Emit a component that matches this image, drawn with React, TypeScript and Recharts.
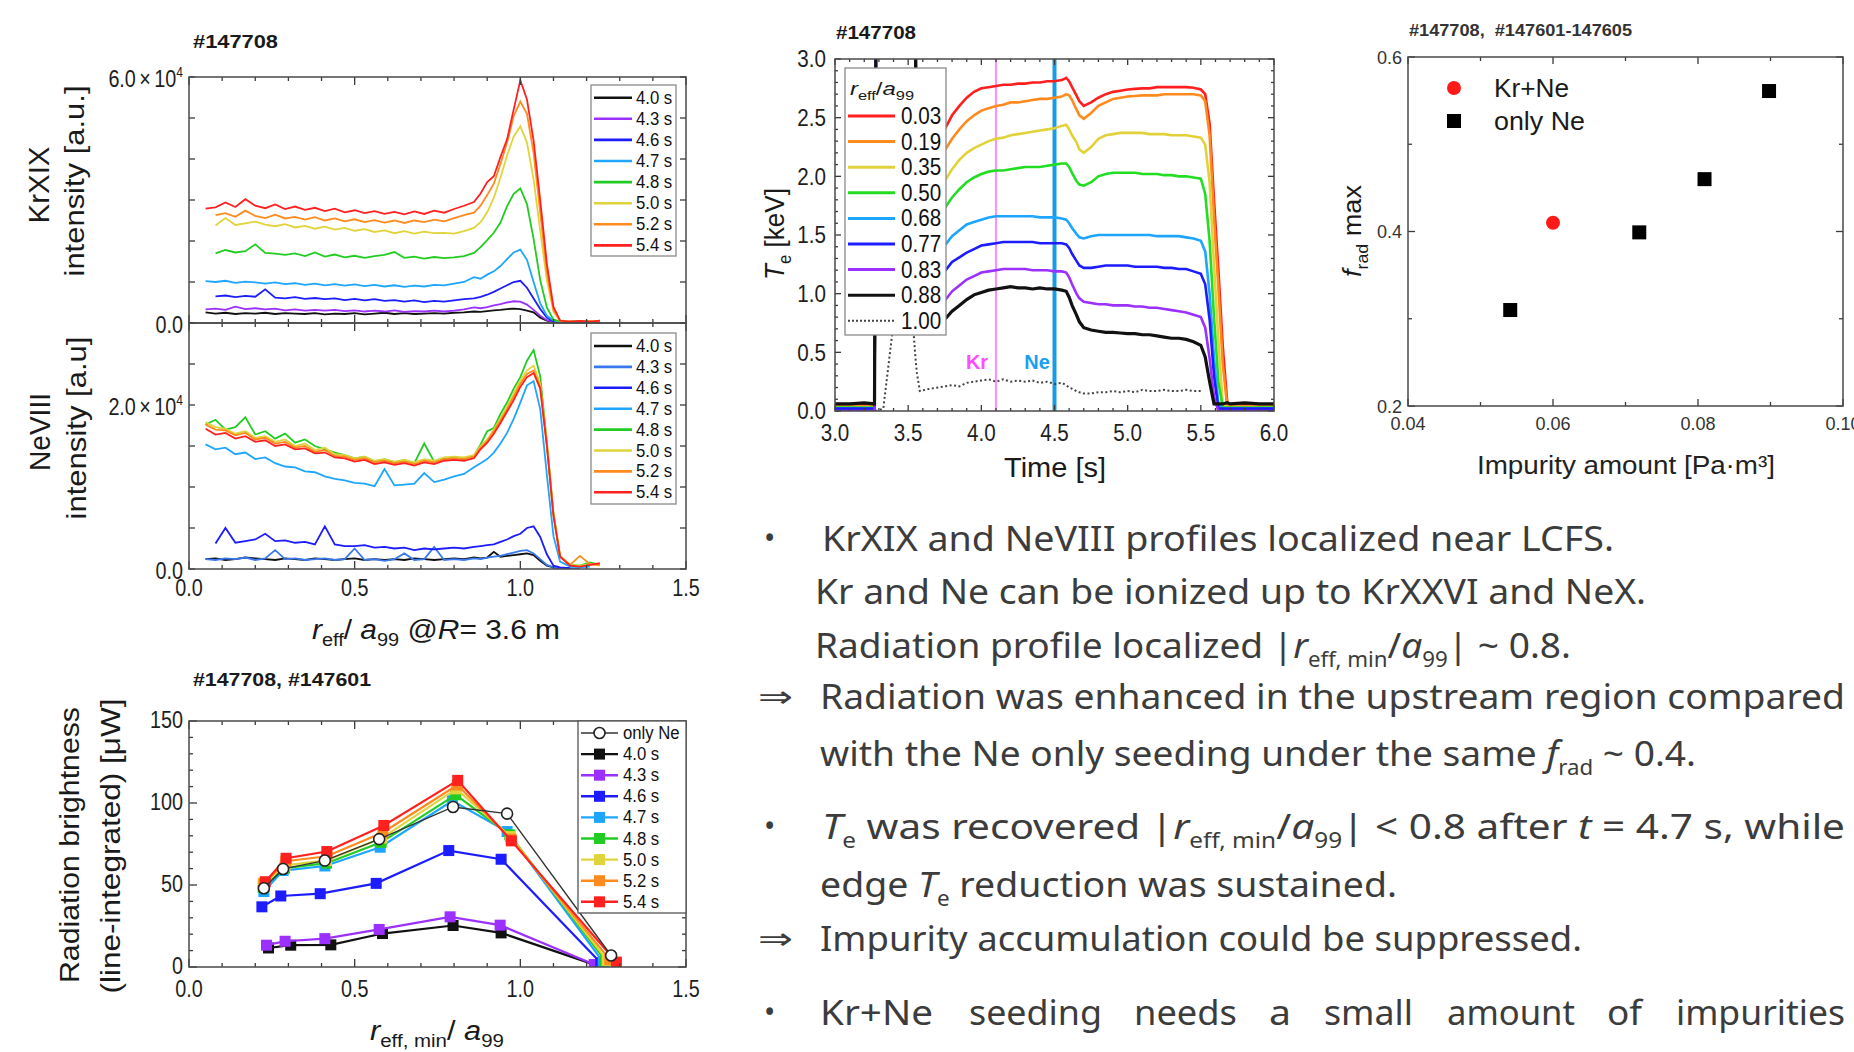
import React from 'react';
import { LineChart, Line, XAxis, YAxis, ReferenceLine, ScatterChart, Scatter } from 'recharts';

const SANS = '"Liberation Sans", Arial, Helvetica, sans-serif';
const BODY = '"Noto Sans", "DejaVu Sans", sans-serif';
const AX = '#3a3a3a';

// ---------------- data: KrXIX / NeVIII profiles (units of 1e3) ----------------
const KR_X = [0.05,0.08,0.11,0.14,0.17,0.20,0.23,0.26,0.29,0.32,0.35,0.38,0.41,0.44,0.47,0.50,0.53,0.56,0.59,0.62,0.65,0.68,0.71,0.74,0.77,0.80,0.83,0.86,0.88,0.90,0.92,0.94,0.96,0.98,1.00,1.02,1.04,1.06,1.08,1.10,1.12,1.15,1.18,1.21,1.24];
const PROFILE_LABELS = ['4.0 s','4.3 s','4.6 s','4.7 s','4.8 s','5.0 s','5.2 s','5.4 s'];
const KR_COLORS = ['#111111','#9b30ff','#1c1cff','#1ea6ff','#22cc22','#e0d43c','#ff8a1e','#ff2020'];
const NE_COLORS = ['#111111','#3a78f0','#1c1cff','#1ea6ff','#22cc22','#e0d43c','#ff8a1e','#ff2020'];

const KR_40 = [2.6,2.3,2.5,2.2,2.4,2.3,2.5,2.2,2.4,2.3,2.2,2.4,2.1,2.3,2.2,2.4,2.1,2.3,2.5,2.2,2.4,2.2,2.3,2.4,2.3,2.5,2.6,2.8,2.7,2.9,3.1,3.2,3.4,3.5,3.4,3.0,2.6,1.3,0.6,0.3,0.2,0.2,0.1,0.2,0.1];
const KR_43 = [3.3,3.5,3.2,4.0,3.4,3.6,3.3,3.5,3.1,3.3,3.0,3.2,3.0,3.2,2.9,3.1,2.8,3.0,2.8,3.1,2.7,2.9,2.8,3.0,2.8,3.0,3.3,3.8,3.6,3.9,4.3,4.6,5.0,5.3,5.2,4.5,3.2,1.8,0.7,0.3,0.2,0.2,0.3,0.2,0.3];
const KR_46 = [null,6.5,6.7,6.3,6.6,6.4,8.2,6.2,6.0,6.3,5.9,6.1,5.8,6.0,5.6,5.9,5.5,5.8,5.4,5.6,5.2,5.5,5.1,5.4,5.2,5.5,5.8,6.0,6.4,6.9,7.6,8.4,9.2,10.0,10.3,8.6,6.0,3.4,1.3,0.4,0.2,0.3,0.2,0.3,0.2];
const KR_47 = [10.2,10.0,10.3,9.8,10.1,9.9,9.6,9.9,9.5,9.7,9.3,9.6,9.2,9.5,9.1,9.4,9.0,9.3,8.9,9.2,8.8,9.1,8.9,9.3,9.2,9.6,10.0,11.2,10.8,11.8,12.6,13.9,15.6,17.2,17.9,15.4,10.0,4.8,1.8,0.6,0.3,0.2,0.4,0.2,0.3];
const KR_48 = [null,17.0,17.8,17.2,17.5,19.2,17.1,16.9,16.6,17.0,16.3,17.2,16.2,16.7,16.0,16.4,15.9,16.3,16.6,17.3,15.9,16.2,15.7,16.1,15.8,16.0,16.3,17.1,18.5,20.2,22.0,24.5,28.5,31.5,32.8,29.0,20.5,10.5,3.8,0.8,0.4,0.3,0.5,0.3,0.6];
const KR_50 = [null,23.8,25.6,23.9,24.3,24.7,24.0,23.6,24.1,23.3,23.7,23.0,23.5,22.8,23.2,22.5,22.9,22.2,22.6,21.9,22.4,21.8,22.3,21.9,22.0,21.8,22.4,23.2,24.6,27.0,30.5,35.5,40.8,45.5,48.0,44.0,35.0,22.5,10.5,2.8,0.5,0.3,0.4,0.2,0.4];
const KR_52 = [null,26.3,26.8,25.9,27.4,26.1,25.6,26.4,25.5,25.9,25.2,25.8,25.0,25.5,24.8,25.3,24.6,25.1,24.5,25.0,24.4,25.0,24.6,25.2,24.8,25.6,26.3,26.9,28.6,31.2,34.0,38.8,44.0,50.5,54.0,51.0,41.5,27.0,12.5,3.2,0.6,0.4,0.2,0.5,0.3];
const KR_54 = [27.9,28.2,29.4,28.3,30.2,28.6,28.0,28.9,27.8,28.4,27.6,28.1,27.3,27.9,27.0,27.5,26.8,27.3,26.6,27.1,26.5,27.2,26.6,27.4,26.9,27.8,28.6,29.5,31.6,34.4,35.8,40.5,44.8,52.1,59.2,54.5,44.5,30.0,14.5,3.9,0.6,0.3,0.5,0.3,0.6];

const NE_40 = [1.2,1.3,1.1,1.2,1.4,1.3,1.2,1.1,1.3,1.2,1.1,1.3,1.2,1.1,1.2,1.3,1.1,1.2,1.1,1.2,1.1,1.3,1.2,1.1,1.2,1.3,1.2,1.4,1.3,1.4,2.1,1.5,1.6,1.7,1.8,1.9,1.7,1.0,0.4,0.2,0.1,0.1,null,null,null];
const NE_43 = [1.2,1.1,1.3,1.2,1.4,1.1,1.3,2.3,1.2,1.3,1.1,1.2,1.3,1.1,1.2,2.5,1.1,1.2,1.0,1.2,1.9,1.1,1.2,2.7,1.1,1.2,1.1,1.3,1.2,1.4,1.5,1.6,1.8,2.0,2.2,2.3,1.9,1.2,0.5,0.2,0.1,0.1,0.0,null,null];
const NE_46 = [null,3.1,5.0,3.2,3.4,3.6,4.3,3.4,3.5,3.2,3.3,3.0,5.2,3.0,2.8,2.8,2.9,2.6,2.7,2.5,2.6,2.3,2.5,2.4,2.5,2.6,2.5,2.7,2.8,2.9,3.0,3.3,3.6,4.0,4.3,5.0,5.2,3.9,1.8,0.4,0.2,0.1,null,null,null];
const NE_47 = [15.2,14.6,14.8,14.0,14.2,13.4,13.6,12.9,12.5,12.4,11.9,11.8,11.3,11.0,10.8,10.5,10.4,10.1,12.2,10.2,10.3,10.4,11.7,10.6,10.9,11.3,11.6,12.4,12.9,13.4,14.2,15.3,16.6,18.3,20.3,22.4,22.9,19.5,11.5,4.0,0.9,0.3,0.2,0.3,null];
const NE_48 = [17.6,18.2,17.0,17.3,18.5,16.4,16.8,15.9,16.5,15.4,15.8,15.0,14.6,14.2,13.9,13.5,13.7,13.1,13.4,13.0,13.3,12.9,15.3,13.1,13.5,13.6,13.4,13.8,15.2,16.8,17.2,18.9,20.3,22.0,23.4,25.4,26.7,23.5,15.5,6.8,1.6,0.5,0.4,0.8,0.5];
const NE_50 = [17.9,17.3,17.1,16.5,16.8,16.0,16.2,15.5,15.8,15.0,15.3,14.5,14.8,14.0,13.9,13.5,13.7,13.2,13.4,13.1,13.3,13.0,13.4,13.2,13.6,13.7,13.6,13.9,15.0,15.8,17.0,18.4,19.8,21.4,23.0,24.2,24.8,22.6,15.4,6.7,1.6,0.5,0.4,0.6,0.4];
const NE_52 = [17.6,17.0,16.9,16.3,16.6,15.8,16.0,15.3,15.5,14.8,15.0,14.3,14.5,13.8,13.7,13.3,13.5,13.0,13.2,12.9,13.1,12.8,13.2,13.0,13.4,13.5,13.4,13.7,14.8,15.6,16.8,18.1,19.5,21.0,22.6,23.8,24.2,22.2,15.2,6.6,1.5,0.5,1.6,0.6,0.5];
const NE_54 = [17.1,16.4,16.6,15.9,16.2,15.5,15.7,15.0,15.2,14.6,14.7,14.1,14.2,13.6,13.5,13.1,13.3,12.8,13.0,12.7,12.9,12.6,13.0,12.8,13.2,13.3,13.2,13.5,14.6,15.4,16.5,17.8,19.2,20.6,22.2,23.4,23.9,22.0,15.0,6.5,1.5,0.4,0.3,0.5,0.7];

const KR_SERIES = [KR_40, KR_43, KR_46, KR_47, KR_48, KR_50, KR_52, KR_54];
const NE_SERIES = [NE_40, NE_43, NE_46, NE_47, NE_48, NE_50, NE_52, NE_54];

// ---------------- data: radiation brightness ----------------
const RAD_LABELS = ['4.0 s','4.3 s','4.6 s','4.7 s','4.8 s','5.0 s','5.2 s','5.4 s'];
const RAD_COLORS = ['#111111','#9b30ff','#1c1cff','#1ea6ff','#22cc22','#e0d43c','#ff8a1e','#ff2020'];
const RAD_X_40 = [0.24,0.307,0.428,0.584,0.797,0.942,1.23];
const RAD_Y_40 = [11.6,13.3,13.5,20.4,25.3,20.8,1.0];
const RAD_X_43 = [0.234,0.29,0.41,0.574,0.788,0.939,1.223];
const RAD_Y_43 = [13.3,15.7,17.3,22.9,30.6,25.5,1.5];
const RAD_X_46 = [0.22,0.277,0.396,0.565,0.784,0.942,1.243];
const RAD_Y_46 = [36.7,43.3,44.7,51.0,71.0,65.7,2.5];
const RAD_X_47 = [0.226,0.284,0.41,0.577,0.795,0.96,1.25];
const RAD_Y_47 = [46.0,58.8,61.6,73.0,101.4,82.6,3.0];
const RAD_X_48 = [0.224,0.288,0.415,0.58,0.805,0.968,1.257];
const RAD_Y_48 = [48.6,60.2,63.3,76.0,105.0,80.6,3.7];
const RAD_X_50 = [0.224,0.29,0.415,0.582,0.807,0.97,1.262];
const RAD_Y_50 = [51.0,62.0,65.0,78.6,108.6,79.5,4.0];
const RAD_X_52 = [0.226,0.292,0.416,0.585,0.81,0.972,1.27];
const RAD_Y_52 = [50.5,64.5,67.5,82.0,111.0,78.0,4.5];
const RAD_X_54 = [0.23,0.293,0.416,0.588,0.811,0.973,1.29];
const RAD_Y_54 = [52.0,66.3,70.4,86.3,113.8,76.9,3.0];
const RAD_X_NE = [0.226,0.284,0.41,0.574,0.797,0.96,1.274];
const RAD_Y_NE = [48.0,59.8,64.9,78.0,97.6,93.5,7.0];
const RAD_XS = [RAD_X_40, RAD_X_43, RAD_X_46, RAD_X_47, RAD_X_48, RAD_X_50, RAD_X_52, RAD_X_54];
const RAD_YS = [RAD_Y_40, RAD_Y_43, RAD_Y_46, RAD_Y_47, RAD_Y_48, RAD_Y_50, RAD_Y_52, RAD_Y_54];

// ---------------- data: Te time traces ----------------
const TE_T = [3.0,3.1,3.2,3.27,3.28,3.33,3.4,3.5,3.55,3.56,3.58,3.65,3.75,3.8,3.85,3.9,3.95,4.0,4.05,4.1,4.15,4.2,4.25,4.3,4.35,4.4,4.45,4.5,4.55,4.58,4.6,4.62,4.65,4.67,4.7,4.75,4.8,4.85,4.9,4.95,5.0,5.05,5.1,5.15,5.2,5.25,5.3,5.35,5.4,5.45,5.5,5.53,5.56,5.59,5.62,5.65,5.68,5.7,5.8,5.9,6.0];
const TE_LABELS = ['0.03','0.19','0.35','0.50','0.68','0.77','0.83','0.88','1.00'];
const TE_COLORS = ['#ff1f1f','#ff8a1e','#e2d23a','#22dd22','#1ea6ff','#1c1cff','#9b30ff','#111111','#444444'];
const TE_003 = [0.05,0.05,0.05,0.05,3.3,3.3,3.3,3.3,3.3,2.0,2.1,2.25,2.40,2.52,2.60,2.67,2.72,2.75,2.76,2.77,2.78,2.78,2.79,2.79,2.80,2.80,2.81,2.81,2.82,2.84,2.81,2.76,2.69,2.64,2.60,2.63,2.67,2.70,2.72,2.73,2.74,2.745,2.75,2.75,2.76,2.76,2.76,2.76,2.76,2.755,2.74,2.70,2.45,1.80,1.20,0.55,0.08,0.04,0.05,0.05,0.05];
const TE_019 = [0.04,0.04,0.04,0.04,3.3,3.3,3.3,3.3,3.3,1.9,1.95,2.08,2.22,2.32,2.40,2.47,2.52,2.56,2.58,2.60,2.61,2.63,2.63,2.64,2.65,2.66,2.66,2.67,2.68,2.70,2.69,2.65,2.57,2.52,2.49,2.54,2.60,2.63,2.66,2.67,2.68,2.685,2.69,2.69,2.69,2.70,2.70,2.70,2.70,2.70,2.69,2.64,2.35,1.65,1.05,0.40,0.04,0.04,0.04,0.04,0.04];
const TE_035 = [0.03,0.03,0.03,0.03,3.3,3.3,3.3,3.3,3.3,1.7,1.72,1.83,1.96,2.06,2.14,2.20,2.24,2.27,2.30,2.32,2.33,2.35,2.36,2.37,2.38,2.39,2.40,2.41,2.43,2.44,2.40,2.35,2.29,2.23,2.20,2.25,2.32,2.35,2.36,2.37,2.37,2.37,2.37,2.36,2.36,2.36,2.35,2.35,2.35,2.34,2.33,2.27,1.95,1.25,0.60,0.06,0.03,0.03,0.03,0.03,0.03];
const TE_050 = [0.03,0.03,0.03,0.03,3.3,3.3,3.3,3.3,3.3,1.5,1.52,1.62,1.73,1.82,1.89,1.95,1.99,2.02,2.04,2.05,2.05,2.06,2.07,2.08,2.08,2.08,2.09,2.10,2.11,2.11,2.08,2.03,1.96,1.93,1.92,1.95,2.00,2.02,2.03,2.03,2.03,2.03,2.02,2.02,2.02,2.01,2.01,2.00,2.00,1.99,1.98,1.85,1.45,0.80,0.25,0.03,0.03,0.03,0.03,0.03,0.03];
const TE_068 = [0.02,0.02,0.02,0.02,3.3,3.3,3.3,3.3,3.3,1.2,1.22,1.32,1.41,1.49,1.54,1.59,1.61,1.63,1.65,1.66,1.66,1.66,1.66,1.66,1.66,1.65,1.65,1.65,1.64,1.63,1.60,1.56,1.51,1.48,1.47,1.49,1.50,1.50,1.50,1.50,1.50,1.50,1.50,1.50,1.49,1.49,1.49,1.49,1.48,1.47,1.45,1.36,1.00,0.45,0.06,0.02,0.02,0.02,0.02,0.02,0.02];
const TE_077 = [0.02,0.02,0.02,0.02,3.3,3.3,3.3,3.3,3.3,1.0,1.02,1.10,1.19,1.27,1.31,1.35,1.38,1.41,1.42,1.43,1.44,1.44,1.44,1.44,1.44,1.43,1.43,1.43,1.43,1.42,1.39,1.34,1.28,1.24,1.22,1.22,1.23,1.24,1.24,1.24,1.24,1.23,1.23,1.23,1.23,1.22,1.22,1.21,1.21,1.19,1.17,1.08,0.78,0.30,0.02,0.02,0.02,0.02,0.02,0.02,0.02];
const TE_083 = [0.0,0.0,0.0,0.0,3.3,3.3,3.3,3.3,3.3,0.9,0.88,0.90,0.94,1.02,1.07,1.12,1.15,1.18,1.19,1.20,1.21,1.21,1.21,1.21,1.20,1.20,1.20,1.19,1.19,1.18,1.14,1.08,1.00,0.96,0.93,0.92,0.91,0.91,0.90,0.90,0.90,0.89,0.89,0.88,0.88,0.87,0.86,0.85,0.84,0.82,0.80,0.71,0.45,0.12,0.0,0.0,0.0,0.0,0.0,0.0,0.0];
const TE_088 = [0.06,0.06,0.07,0.06,3.3,3.3,3.3,3.3,3.3,0.75,0.72,0.74,0.78,0.85,0.90,0.95,0.99,1.01,1.03,1.04,1.05,1.06,1.05,1.05,1.04,1.05,1.04,1.04,1.03,1.02,0.97,0.90,0.82,0.76,0.71,0.69,0.68,0.67,0.67,0.665,0.66,0.66,0.65,0.65,0.64,0.63,0.62,0.62,0.61,0.59,0.56,0.46,0.25,0.06,0.06,0.06,0.07,0.06,0.07,0.06,0.06];
const TE_100 = [0,0,0,0,0,0.02,0.75,1.3,0.45,0.32,0.17,0.19,0.21,0.22,0.21,0.24,0.25,0.26,0.27,0.25,0.27,0.25,0.26,0.25,0.26,0.24,0.25,0.23,0.24,0.22,0.20,0.19,0.17,0.16,0.15,0.15,0.16,0.16,0.17,0.16,0.17,0.16,0.18,0.17,0.17,0.18,0.17,0.17,0.18,0.17,0.17,null,null,null,null,null,null,null,null,null,null];
const TE_SERIES = [TE_003, TE_019, TE_035, TE_050, TE_068, TE_077, TE_083, TE_088, TE_100];
const KR_PUFF_T = 4.1;
const NE_PUFF_T = 4.5;

// ---------------- data: f_rad max vs impurity amount ----------------
const KRNE_AMOUNT = [0.060];
const KRNE_FRAD = [0.41];
const NEONLY_AMOUNT = [0.0541, 0.0719, 0.0809, 0.0898];
const NEONLY_FRAD = [0.31, 0.399, 0.46, 0.561];

// ---------------- ticks ----------------
const PROFILE_X_TICKS = [0,0.1,0.2,0.3,0.4,0.5,0.6,0.7,0.8,0.9,1.0,1.1,1.2,1.3,1.4,1.5];
const PROFILE_X_MAJOR = [0,0.5,1.0,1.5];
const KR_Y_TICKS = [0,10,20,30,40,50,60];
const KR_Y_LABELED = [0,60];
const NE_Y_TICKS = [0,5,10,15,20,25,30];
const NE_Y_LABELED = [0,20];
const RAD_Y_TICKS = [0,10,20,30,40,50,60,70,80,90,100,110,120,130,140,150];
const RAD_Y_MAJOR = [0,50,100,150];
const TE_X_TICKS = [3.0,3.1,3.2,3.3,3.4,3.5,3.6,3.7,3.8,3.9,4.0,4.1,4.2,4.3,4.4,4.5,4.6,4.7,4.8,4.9,5.0,5.1,5.2,5.3,5.4,5.5,5.6,5.7,5.8,5.9,6.0];
const TE_X_MAJOR = [3.0,3.5,4.0,4.5,5.0,5.5,6.0];
const TE_Y_TICKS = [0,0.1,0.2,0.3,0.4,0.5,0.6,0.7,0.8,0.9,1.0,1.1,1.2,1.3,1.4,1.5,1.6,1.7,1.8,1.9,2.0,2.1,2.2,2.3,2.4,2.5,2.6,2.7,2.8,2.9,3.0];
const TE_Y_MAJOR = [0,0.5,1.0,1.5,2.0,2.5,3.0];
const FR_X_TICKS = [0.04,0.05,0.06,0.07,0.08,0.09,0.10];
const FR_X_MAJOR = [0.04,0.06,0.08,0.10];
const FR_Y_TICKS = [0.2,0.3,0.4,0.5,0.6];
const FR_Y_MAJOR = [0.2,0.4,0.6];

// ---------------- layout ----------------
type Rect = { x: number; y: number; w: number; h: number };
const YW = 100, MT = 20, MR = 24, XH = 50;
const R_KR: Rect = { x: 189, y: 77, w: 497, h: 246 };
const R_NE: Rect = { x: 189, y: 323, w: 497, h: 246 };
const R_RAD: Rect = { x: 189, y: 721, w: 497, h: 246 };
const R_TE: Rect = { x: 835, y: 59, w: 439, h: 352 };
const R_FR: Rect = { x: 1408, y: 57, w: 435, h: 349 };

const boxStyle = (r: Rect): React.CSSProperties => ({ position: 'absolute', left: r.x - YW, top: r.y - MT });
const cw = (r: Rect) => YW + r.w + MR;
const ch = (r: Rect) => MT + r.h + XH;
const MARGIN = { top: MT, right: MR, left: 0, bottom: 0 };

type TickCfg = {
  rect: Rect; major: number[]; labeled: number[];
  fmt: (v: number) => React.ReactNode;
  size: number; sx: number; majLen: number; minLen: number; off: number;
  color?: string; weight?: number; ldy?: number;
};
const has = (arr: number[], v: number) => arr.some((m) => Math.abs(m - v) < 1e-9);

function xTick(c: TickCfg) {
  const b = MT + c.rect.h;
  const t = MT;
  return (p: any) => {
    const v = Number(p.payload.value);
    const x = Number(p.x);
    const L = has(c.major, v) ? c.majLen : c.minLen;
    return (
      <g>
        <line x1={x} x2={x} y1={b} y2={b - L} stroke={AX} strokeWidth={1.3} />
        <line x1={x} x2={x} y1={t} y2={t + L} stroke={AX} strokeWidth={1.3} />
        {has(c.labeled, v) ? (
          <text transform={`translate(${x} ${b + c.off}) scale(${c.sx} 1)`} textAnchor="middle" fontFamily={SANS}
            fontSize={c.size} fill={c.color ?? '#1e1e1e'} fontWeight={c.weight ?? 400}>{c.fmt(v)}</text>
        ) : null}
      </g>
    );
  };
}
function yTick(c: TickCfg) {
  const l = YW;
  const r = YW + c.rect.w;
  return (p: any) => {
    const v = Number(p.payload.value);
    const y = Number(p.y);
    const L = has(c.major, v) ? c.majLen : c.minLen;
    return (
      <g>
        <line x1={l} x2={l + L} y1={y} y2={y} stroke={AX} strokeWidth={1.3} />
        <line x1={r} x2={r - L} y1={y} y2={y} stroke={AX} strokeWidth={1.3} />
        {has(c.labeled, v) ? (
          <text transform={`translate(${l - c.off} ${y + c.size * 0.35 + (c.ldy ?? 0)}) scale(${c.sx} 1)`} textAnchor="end"
            fontFamily={SANS} fontSize={c.size} fill={c.color ?? '#1e1e1e'} fontWeight={c.weight ?? 400}>{c.fmt(v)}</text>
        ) : null}
      </g>
    );
  };
}

const f0 = (v: number) => String(Math.round(v));
const f1 = (v: number) => v.toFixed(1);
const f2 = (v: number) => v.toFixed(2);
const sci4 = (v: number) => (v === 0 ? '0.0' : (
  <>
    {(v / 10).toFixed(1)}
    <tspan dx={4}>×</tspan>
    <tspan dx={4}>10</tspan>
    <tspan dy={-10} fontSize={14}>4</tspan>
  </>
));

// ---------------- text helpers ----------------
type Seg = { t: string; it?: boolean; sub?: boolean };
function segs(list: Seg[], subSize: number, subDy: number) {
  let shifted = false;
  return list.map((s, i) => {
    let dy = 0;
    if (s.sub && !shifted) { dy = subDy; shifted = true; }
    else if (!s.sub && shifted) { dy = -subDy; shifted = false; }
    return (
      <tspan key={i} dy={dy || undefined} fontSize={s.sub ? subSize : undefined} fontStyle={s.it ? 'italic' : undefined}>{s.t}</tspan>
    );
  });
}

function Label(props: { x: number; y: number; size: number; anchor?: string; rot?: boolean; len?: number; fill?: string; family?: string; weight?: number; children: React.ReactNode }) {
  const { x, y, size, anchor = 'middle', rot = false, len, fill = '#1a1a1a', family = SANS, weight = 400, children } = props;
  return (
    <text x={x} y={y + size * 0.35} transform={rot ? `rotate(-90 ${x} ${y})` : undefined} textAnchor={anchor as any}
      fontSize={size} fontFamily={family} fill={fill} fontWeight={weight}
      textLength={len} lengthAdjust={len ? 'spacingAndGlyphs' : undefined} style={{ whiteSpace: 'pre' }}>
      {children}
    </text>
  );
}

const NOTE_SIZE = 35;
const NOTE_LINES: { mark?: string; x: number; x2: number; y: number; segs: Seg[] }[] = [
  { mark: '•', x: 822, x2: 1614, y: 551, segs: [{ t: 'KrXIX and NeVIII profiles localized near LCFS.' }] },
  { x: 815, x2: 1646, y: 604, segs: [{ t: 'Kr and Ne can be ionized up to KrXXVI and NeX.' }] },
  { x: 815, x2: 1571, y: 658, segs: [{ t: 'Radiation profile localized |' }, { t: 'r', it: true }, { t: 'eff, min', sub: true }, { t: '/' }, { t: 'a', it: true }, { t: '99', sub: true }, { t: '| ~ 0.8.' }] },
  { mark: '⇒', x: 820, x2: 1845, y: 709, segs: [{ t: 'Radiation was enhanced in the upstream region compared' }] },
  { x: 820, x2: 1696, y: 766, segs: [{ t: 'with the Ne only seeding under the same ' }, { t: 'f', it: true }, { t: 'rad', sub: true }, { t: ' ~ 0.4.' }] },
  { mark: '•', x: 822, x2: 1845, y: 839, segs: [{ t: 'T', it: true }, { t: 'e', sub: true }, { t: ' was recovered |' }, { t: 'r', it: true }, { t: 'eff, min', sub: true }, { t: '/' }, { t: 'a', it: true }, { t: '99', sub: true }, { t: '| < 0.8 after ' }, { t: 't', it: true }, { t: ' = 4.7 s, while' }] },
  { x: 820, x2: 1397, y: 897, segs: [{ t: 'edge ' }, { t: 'T', it: true }, { t: 'e', sub: true }, { t: ' reduction was sustained.' }] },
  { mark: '⇒', x: 820, x2: 1582, y: 951, segs: [{ t: 'Impurity accumulation could be suppressed.' }] },
];
const LAST_LINE_Y = 1025;
const LAST_LINE_WORDS: [string, number, number][] = [
  ['Kr+Ne', 820, 933], ['seeding', 969, 1102], ['needs', 1134, 1237], ['a', 1269, 1291],
  ['small', 1324, 1413], ['amount', 1447, 1575], ['of', 1607, 1642], ['impurities', 1676, 1845],
];

// ---------------- legends ----------------
function ProfileLegend({ box, y0, dy, colors }: { box: Rect; y0: number; dy: number; colors: string[] }) {
  return (
    <g>
      <rect x={box.x} y={box.y} width={box.w} height={box.h} fill="#fff" stroke="#8a8a8a" strokeWidth={1.3} />
      {PROFILE_LABELS.map((lab, i) => (
        <g key={lab}>
          <line x1={box.x + 3} x2={box.x + 41} y1={y0 + i * dy} y2={y0 + i * dy} stroke={colors[i]} strokeWidth={2.6} />
          <text transform={`translate(${box.x + 45} ${y0 + i * dy + 6}) scale(0.88 1)`} fontFamily={SANS} fontSize={19} fill="#111">{lab}</text>
        </g>
      ))}
    </g>
  );
}

function Frame({ r }: { r: Rect }) {
  return <rect x={r.x} y={r.y} width={r.w} height={r.h} fill="none" stroke="#4a4a4a" strokeWidth={1.5} />;
}

// ---------------- charts ----------------
const KR_ROWS = KR_X.map((x, i) => {
  const row: any = { x };
  KR_SERIES.forEach((s, k) => { row[`s${k}`] = s[i]; });
  return row;
});
const NE_ROWS = KR_X.map((x, i) => {
  const row: any = { x };
  NE_SERIES.forEach((s, k) => { row[`s${k}`] = s[i]; });
  return row;
});
const TE_ROWS = TE_T.map((t, i) => {
  const row: any = { t };
  TE_SERIES.forEach((s, k) => { row[`s${k}`] = s[i]; });
  return row;
});
const RAD_PTS = RAD_XS.map((xs, k) => xs.map((x, i) => ({ x, y: RAD_YS[k][i] })));
const RAD_NE_PTS = RAD_X_NE.map((x, i) => ({ x, y: RAD_Y_NE[i] }));
const KRNE_PTS = KRNE_AMOUNT.map((x, i) => ({ x, y: KRNE_FRAD[i] }));
const NEONLY_PTS = NEONLY_AMOUNT.map((x, i) => ({ x, y: NEONLY_FRAD[i] }));

function ProfileChart({ r, rows, colors, yTicks, yLabeled, yMax, showX }: any) {
  return (
    <div style={boxStyle(r)}>
      <LineChart width={cw(r)} height={ch(r)} data={rows} margin={MARGIN}>
        <XAxis type="number" dataKey="x" domain={[0, 1.5]} ticks={PROFILE_X_TICKS} interval={0} allowDataOverflow
          tickLine={false} axisLine={false} height={XH}
          tick={xTick({ rect: r, major: PROFILE_X_MAJOR, labeled: showX ? PROFILE_X_MAJOR : [], fmt: f1, size: 23, sx: 0.86, majLen: 8, minLen: 4, off: 27 })} />
        <YAxis type="number" domain={[0, yMax]} ticks={yTicks} interval={0} allowDataOverflow
          tickLine={false} axisLine={false} width={YW}
          tick={yTick({ rect: r, major: yTicks, labeled: yLabeled, fmt: sci4, size: 23, sx: 0.86, majLen: 6, minLen: 6, off: 6, ldy: 2 })} />
        {colors.map((c: string, k: number) => (
          <Line key={k} type="linear" dataKey={`s${k}`} stroke={c} strokeWidth={1.8} dot={false}
            isAnimationActive={false} connectNulls={false} />
        ))}
      </LineChart>
    </div>
  );
}

const squareShape = (color: string, half: number) => (p: any) => (
  <rect x={p.cx - half} y={p.cy - half} width={half * 2} height={half * 2} fill={color} />
);
const openCircle = (p: any) => <circle cx={p.cx} cy={p.cy} r={5.5} fill="#fff" stroke="#222" strokeWidth={1.6} />;
const redDot = (p: any) => <circle cx={p.cx} cy={p.cy} r={7} fill="#ff1a1a" />;

export default function App() {
  return (
    <div style={{ position: 'absolute', left: 0, top: 0, width: 1854, height: 1052, background: '#fff', overflow: 'hidden' }}>
      <ProfileChart r={R_KR} rows={KR_ROWS} colors={KR_COLORS} yTicks={KR_Y_TICKS} yLabeled={KR_Y_LABELED} yMax={60} showX={false} />
      <ProfileChart r={R_NE} rows={NE_ROWS} colors={NE_COLORS} yTicks={NE_Y_TICKS} yLabeled={NE_Y_LABELED} yMax={30} showX={true} />

      <div style={boxStyle(R_RAD)}>
        <ScatterChart width={cw(R_RAD)} height={ch(R_RAD)} margin={MARGIN}>
          <XAxis type="number" dataKey="x" domain={[0, 1.5]} ticks={PROFILE_X_TICKS} interval={0} allowDataOverflow
            tickLine={false} axisLine={false} height={XH}
            tick={xTick({ rect: R_RAD, major: PROFILE_X_MAJOR, labeled: PROFILE_X_MAJOR, fmt: f1, size: 23, sx: 0.86, majLen: 8, minLen: 4, off: 30 })} />
          <YAxis type="number" dataKey="y" domain={[0, 150]} ticks={RAD_Y_TICKS} interval={0} allowDataOverflow
            tickLine={false} axisLine={false} width={YW}
            tick={yTick({ rect: R_RAD, major: RAD_Y_MAJOR, labeled: RAD_Y_MAJOR, fmt: f0, size: 23, sx: 0.86, majLen: 8, minLen: 4, off: 6, ldy: -1 })} />
          {RAD_PTS.map((pts, k) => (
            <Scatter key={k} data={pts} line={{ stroke: RAD_COLORS[k], strokeWidth: 2.2 }} lineType="joint"
              shape={squareShape(RAD_COLORS[k], 5.5)} isAnimationActive={false} />
          ))}
          <Scatter data={RAD_NE_PTS} line={{ stroke: '#333', strokeWidth: 1.4 }} lineType="joint" shape={openCircle} isAnimationActive={false} />
        </ScatterChart>
      </div>

      <div style={boxStyle(R_TE)}>
        <LineChart width={cw(R_TE)} height={ch(R_TE)} data={TE_ROWS} margin={MARGIN}>
          <XAxis type="number" dataKey="t" domain={[3, 6]} ticks={TE_X_TICKS} interval={0} allowDataOverflow
            tickLine={false} axisLine={false} height={XH}
            tick={xTick({ rect: R_TE, major: TE_X_MAJOR, labeled: TE_X_MAJOR, fmt: f1, size: 24, sx: 0.86, majLen: 6, minLen: 3, off: 30 })} />
          <YAxis type="number" domain={[0, 3]} ticks={TE_Y_TICKS} interval={0} allowDataOverflow
            tickLine={false} axisLine={false} width={YW}
            tick={yTick({ rect: R_TE, major: TE_Y_MAJOR, labeled: TE_Y_MAJOR, fmt: f1, size: 24, sx: 0.86, majLen: 6, minLen: 3, off: 9 })} />
          <ReferenceLine x={KR_PUFF_T} stroke="#ff8cff" strokeWidth={2} />
          <ReferenceLine x={NE_PUFF_T} stroke="#1a9be6" strokeWidth={4} />
          <Line type="linear" dataKey="s8" stroke={TE_COLORS[8]} strokeWidth={2} strokeDasharray="2 2.5" dot={false} isAnimationActive={false} connectNulls={false} />
          {TE_COLORS.slice(0, 8).map((c, k) => (
            <Line key={k} type="linear" dataKey={`s${k}`} stroke={c} strokeWidth={k === 7 ? 3.2 : 2.6} dot={false}
              isAnimationActive={false} connectNulls={false} />
          ))}
        </LineChart>
      </div>

      <div style={boxStyle(R_FR)}>
        <ScatterChart width={cw(R_FR)} height={ch(R_FR)} margin={MARGIN}>
          <XAxis type="number" dataKey="x" domain={[0.04, 0.1]} ticks={FR_X_TICKS} interval={0} allowDataOverflow
            tickLine={false} axisLine={false} height={XH}
            tick={xTick({ rect: R_FR, major: FR_X_MAJOR, labeled: FR_X_MAJOR, fmt: f2, size: 19, sx: 0.95, majLen: 7, minLen: 4, off: 24, color: '#333' })} />
          <YAxis type="number" dataKey="y" domain={[0.2, 0.6]} ticks={FR_Y_TICKS} interval={0} allowDataOverflow
            tickLine={false} axisLine={false} width={YW}
            tick={yTick({ rect: R_FR, major: FR_Y_MAJOR, labeled: FR_Y_MAJOR, fmt: f1, size: 19, sx: 0.95, majLen: 7, minLen: 4, off: 6, color: '#333' })} />
          <Scatter data={NEONLY_PTS} shape={squareShape('#000', 7)} isAnimationActive={false} />
          <Scatter data={KRNE_PTS} shape={redDot} isAnimationActive={false} />
        </ScatterChart>
      </div>

      <svg width={1854} height={1052} style={{ position: 'absolute', left: 0, top: 0, pointerEvents: 'none' }}>
        <Frame r={R_KR} />
        <Frame r={R_NE} />
        <Frame r={R_RAD} />
        <Frame r={R_TE} />
        <Frame r={R_FR} />

        {/* titles */}
        <Label x={193} y={41} size={19} anchor="start" len={85} weight={700}>#147708</Label>
        <Label x={193} y={679} size={19} anchor="start" len={178} weight={700}>#147708, #147601</Label>
        <Label x={836} y={32} size={19} anchor="start" len={80} weight={700}>#147708</Label>
        <Label x={1409} y={30} size={16} anchor="start" len={223} weight={700} fill="#333">#147708,  #147601-147605</Label>

        {/* axis labels */}
        <Label x={38} y={185} size={30} rot len={77}>KrXIX</Label>
        <Label x={74} y={181} size={28} rot len={191}>intensity [a.u.]</Label>
        <Label x={39} y={432} size={30} rot len={78}>NeVIII</Label>
        <Label x={76} y={428} size={28} rot len={183}>intensity [a.u]</Label>
        <Label x={436} y={630} size={27} len={248}>
          {segs([{ t: 'r', it: true }, { t: 'eff', sub: true }, { t: '/ ' }, { t: 'a', it: true }, { t: '99', sub: true }, { t: ' @' }, { t: 'R', it: true }, { t: '= 3.6 m' }], 18, 7)}
        </Label>
        <Label x={70} y={845} size={27} rot len={276}>Radiation brightness</Label>
        <Label x={111} y={846} size={27} rot len={295}>(line-integrated) [μW]</Label>
        <Label x={437} y={1031} size={27} len={134}>
          {segs([{ t: 'r', it: true }, { t: 'eff, min', sub: true }, { t: '/ ' }, { t: 'a', it: true }, { t: '99', sub: true }], 18, 7)}
        </Label>
        <Label x={774} y={234} size={28} rot len={92}>
          {segs([{ t: 'T', it: true }, { t: 'e', sub: true }, { t: ' [keV]' }], 18, 7)}
        </Label>
        <Label x={1055} y={467} size={28} len={102}>Time [s]</Label>
        <Label x={1352} y={231} size={26} rot len={92}>
          {segs([{ t: 'f', it: true }, { t: 'rad', sub: true }, { t: ' max' }], 17, 7)}
        </Label>
        <Label x={1626} y={465} size={25} len={298} fill="#222">Impurity amount [Pa·m³]</Label>

        {/* puff labels */}
        <Label x={977} y={362} size={20} weight={700} fill="#ff4dff">Kr</Label>
        <Label x={1037} y={362} size={20} weight={700} fill="#1aa0f0">Ne</Label>

        {/* legends */}
        <ProfileLegend box={{ x: 591, y: 85, w: 85, h: 171 }} y0={97.7} dy={21.1} colors={KR_COLORS} />
        <ProfileLegend box={{ x: 591, y: 333, w: 85, h: 171 }} y0={346} dy={20.9} colors={NE_COLORS} />

        <g>
          <rect x={578} y={721} width={108} height={192} fill="#fff" stroke="#555" strokeWidth={1.3} />
          <line x1={581} x2={618} y1={733} y2={733} stroke="#333" strokeWidth={1.6} />
          <circle cx={599.5} cy={733} r={5.5} fill="#fff" stroke="#222" strokeWidth={1.6} />
          <text transform={`translate(623 ${733 + 6}) scale(0.88 1)`} fontFamily={SANS} fontSize={19} fill="#111">only Ne</text>
          {RAD_LABELS.map((lab, i) => {
            const yy = 733 + (i + 1) * 21.1;
            return (
              <g key={lab}>
                <line x1={581} x2={618} y1={yy} y2={yy} stroke={RAD_COLORS[i]} strokeWidth={2.4} />
                <rect x={594} y={yy - 5.5} width={11} height={11} fill={RAD_COLORS[i]} />
                <text transform={`translate(623 ${yy + 6}) scale(0.88 1)`} fontFamily={SANS} fontSize={19} fill="#111">{lab}</text>
              </g>
            );
          })}
        </g>

        <g>
          <rect x={845} y={68} width={101} height={267} fill="#fff" stroke="#8a8a8a" strokeWidth={1.3} />
          <Label x={850} y={88} size={19} anchor="start" len={64}>
            {segs([{ t: 'r', it: true }, { t: 'eff', sub: true }, { t: '/' }, { t: 'a', it: true }, { t: '99', sub: true }], 13, 5)}
          </Label>
          {TE_LABELS.map((lab, i) => {
            const yy = 116 + i * 25.6;
            return (
              <g key={lab}>
                <line x1={848} x2={895} y1={yy} y2={yy} stroke={TE_COLORS[i]} strokeWidth={i === 8 ? 2 : 3}
                  strokeDasharray={i === 8 ? '2 2' : undefined} />
                <text transform={`translate(901 ${yy + 8}) scale(0.86 1)`} fontFamily={SANS} fontSize={24} fill="#111">{lab}</text>
              </g>
            );
          })}
        </g>

        <g>
          <circle cx={1454} cy={88} r={7} fill="#ff1a1a" />
          <Label x={1494} y={88} size={26} anchor="start" len={75}>Kr+Ne</Label>
          <rect x={1447} y={114} width={14} height={14} fill="#000" />
          <Label x={1494} y={121} size={26} anchor="start" len={91}>only Ne</Label>
        </g>

        {/* notes */}
        {NOTE_LINES.map((ln, i) => (
          <g key={i}>
            {ln.mark === '•' ? (
              <text x={764} y={ln.y - 2} fontSize={30} fontFamily={BODY} fill="#3c3c3c">•</text>
            ) : null}
            {ln.mark === '⇒' ? (
              <text x={758} y={ln.y - 2} fontSize={30} fontFamily={'"DejaVu Sans", sans-serif'} fill="#3c3c3c" textLength={35} lengthAdjust="spacingAndGlyphs">⇒</text>
            ) : null}
            <text x={ln.x} y={ln.y} fontSize={NOTE_SIZE} fontFamily={BODY} fill="#3c3c3c"
              textLength={ln.x2 - ln.x} lengthAdjust="spacingAndGlyphs" style={{ whiteSpace: 'pre' }}>
              {segs(ln.segs, 21, 9)}
            </text>
          </g>
        ))}
        <text x={764} y={LAST_LINE_Y - 2} fontSize={30} fontFamily={BODY} fill="#3c3c3c">•</text>
        {LAST_LINE_WORDS.map(([w, a, b]) => (
          <text key={w} x={a} y={LAST_LINE_Y} fontSize={NOTE_SIZE} fontFamily={BODY} fill="#3c3c3c"
            textLength={b - a} lengthAdjust="spacingAndGlyphs">{w}</text>
        ))}
      </svg>
    </div>
  );
}
